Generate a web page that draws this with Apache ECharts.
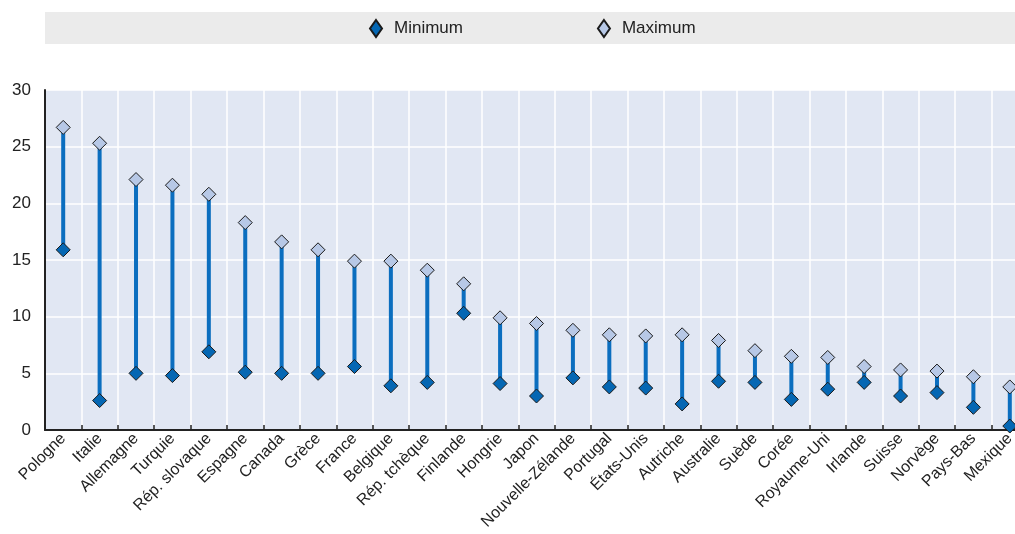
<!DOCTYPE html>
<html>
<head>
<meta charset="utf-8">
<script src="https://cdn.jsdelivr.net/npm/echarts@6/dist/echarts.min.js"></script>
<style>html,body{margin:0;padding:0;background:#fff;overflow:hidden;width:1015px;height:534px}#c{width:1028px;height:534px}</style>
</head>
<body>
<div id="c"></div>
<script>
const categories = ["Pologne","Italie","Allemagne","Turquie","Rép. slovaque","Espagne","Canada","Grèce","France","Belgique","Rép. tchèque","Finlande","Hongrie","Japon","Nouvelle-Zélande","Portugal","États-Unis","Autriche","Australie","Suède","Corée","Royaume-Uni","Irlande","Suisse","Norvège","Pays-Bas","Mexique"];
const minimum = [15.9,2.6,5.0,4.8,6.9,5.1,5.0,5.0,5.6,3.9,4.2,10.3,4.1,3.0,4.6,3.8,3.7,2.3,4.3,4.2,2.7,3.6,4.2,3.0,3.3,2.0,0.35];
const maximum = [26.7,25.3,22.1,21.6,20.8,18.3,16.6,15.9,14.9,14.9,14.1,12.9,9.9,9.4,8.8,8.4,8.3,8.4,7.9,7.0,6.5,6.4,5.6,5.3,5.2,4.7,3.8];
const yTicks = [0,5,10,15,20,25,30];

const FONT = '"Liberation Sans Narrow","Arial Narrow","Liberation Sans",Arial,sans-serif';
const chart = echarts.init(document.getElementById('c'));
const rangeData = categories.map((c,i)=>[i, minimum[i], maximum[i]]);

chart.setOption({
  animation:false,
  graphic:[{type:'rect', shape:{x:45,y:12,width:990,height:32}, style:{fill:'#ebebeb'}, z:-1}],
  legend:{
    top:14, left:364, itemWidth:12, itemHeight:17, itemGap:134,
    textStyle:{fontFamily:FONT, fontSize:17, color:'#222', padding:[0,0,0,7]},
    data:[{name:'Minimum', icon:'diamond'},{name:'Maximum', icon:'diamond'}]
  },
  grid:{left:45, top:90, right:0, height:340, show:true, backgroundColor:'#e1e7f3', borderWidth:0},
  xAxis:{
    type:'category', data:categories, boundaryGap:true,
    axisLine:{lineStyle:{color:'#222', width:2}},
    axisTick:{show:true, inside:true, length:5, lineStyle:{color:'#222', width:1.5}},
    splitLine:{show:true, lineStyle:{color:'#ffffff', width:1.5}},
    axisLabel:{rotate:45, interval:0, fontFamily:FONT, fontSize:16, color:'#222', margin:6}
  },
  yAxis:{
    type:'value', min:0, max:30, interval:5,
    axisLine:{show:true, lineStyle:{color:'#222', width:2}},
    axisTick:{show:false},
    splitLine:{lineStyle:{color:'#ffffff', width:1.5}},
    axisLabel:{fontFamily:FONT, fontSize:17, color:'#222', margin:14,
      formatter:v=> yTicks.includes(v) ? String(v) : ''}
  },
  series:[
    {type:'custom', z:1, data:rangeData, silent:true,
     renderItem:(params, api)=>{
       const p1 = api.coord([api.value(0), api.value(1)]);
       const p2 = api.coord([api.value(0), api.value(2)]);
       return {type:'line', shape:{x1:p1[0],y1:p1[1],x2:p2[0],y2:p2[1]}, style:{stroke:'#0b6ebf', lineWidth:4}};
     }},
    {name:'Minimum', type:'scatter', z:3, symbol:'diamond', symbolSize:14, data:minimum,
     itemStyle:{color:'#0567b3', borderColor:'#1a1a1a', borderWidth:1, opacity:1}},
    {name:'Maximum', type:'scatter', z:3, symbol:'diamond', symbolSize:14, data:maximum,
     itemStyle:{color:'#b7c8e6', borderColor:'#1a1a1a', borderWidth:1, opacity:1}}
  ]
});
</script>
</body>
</html>
